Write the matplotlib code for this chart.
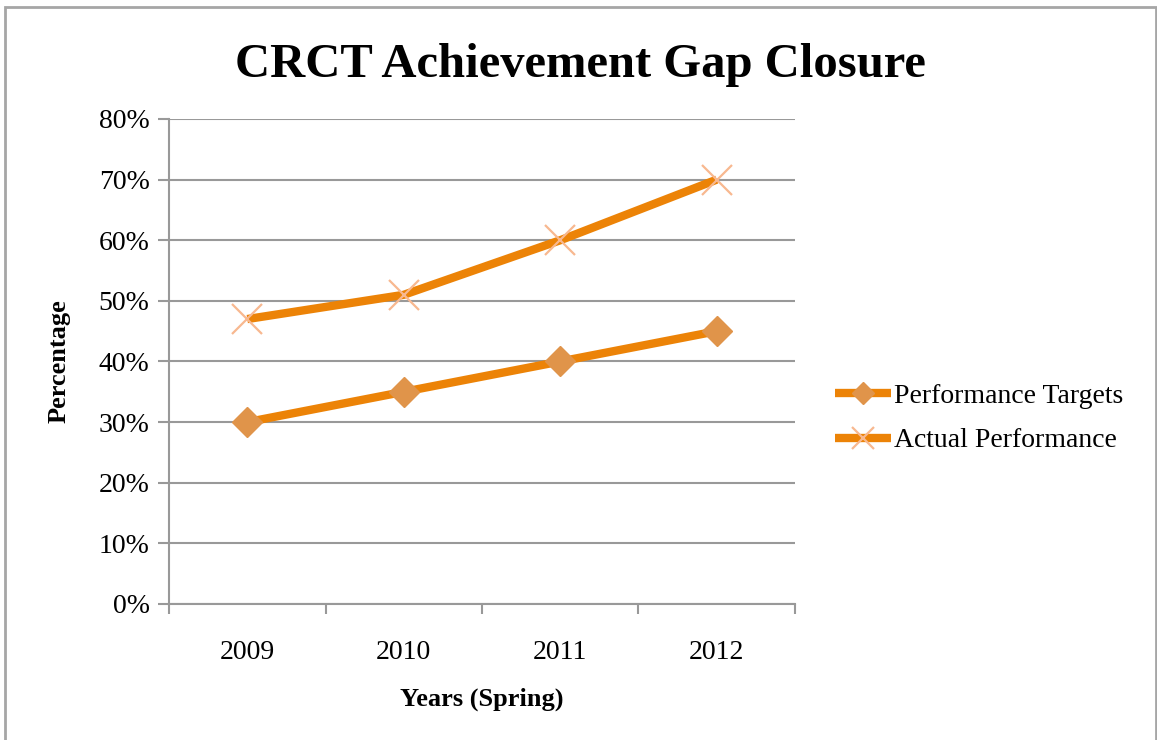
import matplotlib.pyplot as plt
from matplotlib.patches import Rectangle
from matplotlib.ticker import FuncFormatter, FixedLocator

# DATOS
# =====
anios = ["2009", "2010", "2011", "2012"]
metas = [30, 35, 40, 45]          # Performance Targets [%]
real = [47, 51, 60, 70]           # Actual Performance [%]

plt.rcParams['font.family'] = ['Liberation Serif', 'DejaVu Serif']

fig = plt.figure(figsize=(11.57, 7.40), dpi=100)
ax = fig.add_axes([0.1461, 0.1838, 0.5410, 0.6554])

# borde del grafico
fig.patches.append(Rectangle((5 / 1157, -0.05), 1151 / 1157, 1 - 7 / 740 + 0.05,
                             transform=fig.transFigure, fill=False,
                             edgecolor="#a6a6a6", linewidth=2))

x = list(range(len(anios)))
ax.plot(x, metas, color="#ec8307", linewidth=6, marker="D", markersize=15,
        markerfacecolor="#e0944a", markeredgecolor="#e0944a",
        label="Performance Targets", solid_capstyle="butt")
ax.plot(x, real, color="#ec8307", linewidth=6, marker="x", markersize=22,
        markeredgewidth=1.6, markeredgecolor="#f8b890",
        label="Actual Performance", solid_capstyle="butt")

ax.set_xlim(-0.5, 3.5)
ax.set_ylim(0, 80)
ax.set_yticks(range(0, 81, 10))
ax.yaxis.set_major_formatter(FuncFormatter(lambda v, p: f"{v:.0f}%"))
ax.set_xticks(x)
ax.set_xticklabels(anios)
ax.xaxis.set_minor_locator(FixedLocator([-0.5, 0.5, 1.5, 2.5, 3.5]))
ax.tick_params(axis="x", which="major", length=0, pad=26, labelsize=20)
ax.tick_params(axis="x", which="minor", length=7, width=1.5, color="#999999")
ax.tick_params(axis="y", length=8, width=1.5, color="#999999", labelsize=20, pad=6)

ax.grid(axis="y", color="#999999", linewidth=1.5)
ax.set_axisbelow(True)
for s in ["top", "right"]:
    ax.spines[s].set_visible(False)
ax.spines["left"].set_color("#999999")
ax.spines["bottom"].set_color("#999999")
ax.spines["left"].set_linewidth(1.5)
ax.spines["bottom"].set_linewidth(1.5)

fig.text(0.502, 0.912, "CRCT Achievement Gap Closure", fontsize=35,
         fontweight="bold", ha="center", va="center")
ax.set_xlabel("Years (Spring)", fontsize=19, fontweight="bold", labelpad=16)
ax.set_ylabel("Percentage", fontsize=19, fontweight="bold", labelpad=20)

ax.legend(loc="center left", bbox_to_anchor=(1.064, 0.383), frameon=False,
          fontsize=20, handlelength=2.0, handletextpad=0.12, labelspacing=0.7,
          borderpad=0, borderaxespad=0, markerscale=0.75)

plt.savefig("out.png")
